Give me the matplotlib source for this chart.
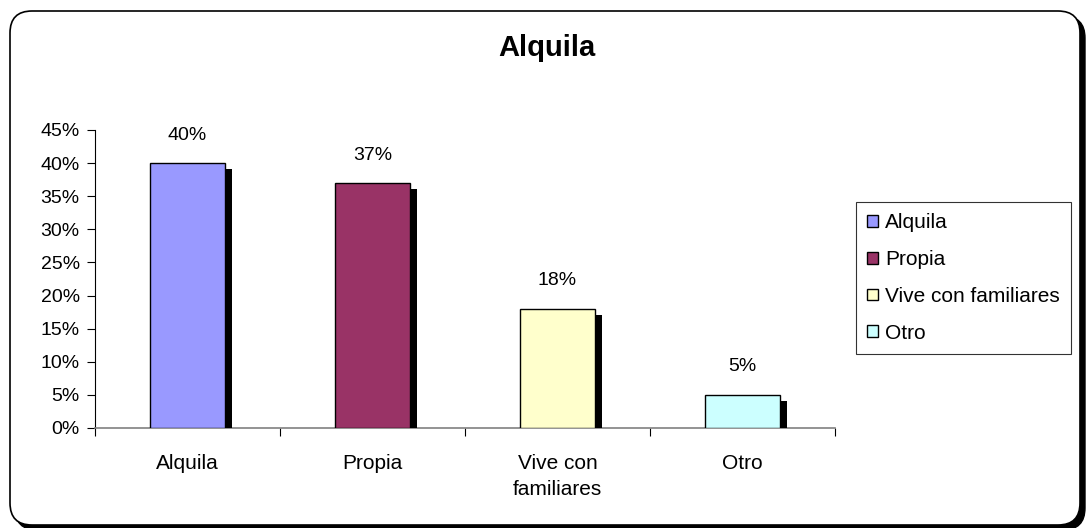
import matplotlib
matplotlib.use('Agg')
import matplotlib.pyplot as plt
from matplotlib.patches import FancyBboxPatch, Patch
from matplotlib.transforms import IdentityTransform
import matplotlib.patheffects as pe

plt.rcParams['font.family'] = ['Liberation Sans', 'DejaVu Sans']

categories = ['Alquila', 'Propia', 'Vive con familiares', 'Otro']
tick_labels = ['Alquila', 'Propia', 'Vive con\nfamiliares', 'Otro']
values = [0.40, 0.37, 0.18, 0.05]
colors = ['#9999FF', '#993366', '#FFFFCC', '#CCFFFF']

W, H = 1086, 528
fig = plt.figure(figsize=(W / 100, H / 100), dpi=100)

# rounded chart border with shadow (pixel coordinates, origin bottom-left)
box = dict(boxstyle='round,pad=0,rounding_size=22', transform=IdentityTransform(), zorder=0)
shadow = FancyBboxPatch((15, H - 530), 1070, 514, facecolor='black', edgecolor='black', **box)
frame = FancyBboxPatch((10, H - 525), 1070, 514, facecolor='white', edgecolor='black',
                       linewidth=1.2, **box)
fig.patches.extend([shadow, frame])

ax = fig.add_axes([95 / W, 1 - 428 / H, 740 / W, 298 / H])
ax.set_zorder(2)
ax.patch.set_visible(False)

x = range(len(categories))
bars = ax.bar(x, values, width=0.41, color=colors, edgecolor='black', linewidth=1,
              zorder=3)
for b in bars:
    b.set_path_effects([pe.SimplePatchShadow(offset=(4.5, -4.5), shadow_rgbFace='black',
                                             alpha=1.0), pe.Normal()])

for xi, v in zip(x, values):
    ax.annotate(f'{v:.0%}', (xi, v), xytext=(0, 14), textcoords='offset points',
                ha='center', va='bottom', fontsize=14)

ax.set_xlim(-0.5, 3.5)
ax.set_ylim(0, 0.45)
ax.set_yticks([i * 0.05 for i in range(10)])
ax.set_yticklabels([f'{i * 5}%' for i in range(10)], fontsize=14)
ax.set_xticks(list(x))
ax.set_xticklabels(tick_labels, fontsize=15, linespacing=1.45)
ax.tick_params(axis='x', length=0, pad=19)
ax.set_xticks([-0.5, 0.5, 1.5, 2.5, 3.5], minor=True)
ax.tick_params(axis='x', which='minor', length=6, color='black', width=0.8)
ax.tick_params(axis='y', length=6, width=0.8, pad=5)

for s in ['top', 'right']:
    ax.spines[s].set_visible(False)
ax.spines['left'].set_linewidth(0.8)
ax.spines['bottom'].set_color('#808080')
ax.spines['bottom'].set_linewidth(1.2)

fig.text(547 / W, 1 - 48 / H, 'Alquila', ha='center', va='center',
         fontsize=21, fontweight='bold')

handles = [Patch(facecolor=c, edgecolor='black', label=l) for c, l in zip(colors, categories)]
leg = fig.legend(handles=handles, loc='upper left',
                 bbox_to_anchor=(856 / W, 1 - 202 / H), fontsize=15, frameon=True,
                 fancybox=False, edgecolor='black', handlelength=0.5, handleheight=0.5,
                 handletextpad=0.35, labelspacing=0.85, borderpad=0.55, borderaxespad=0)
leg.get_frame().set_linewidth(0.8)
leg.set_zorder(3)

fig.savefig('out.png', dpi=100)
